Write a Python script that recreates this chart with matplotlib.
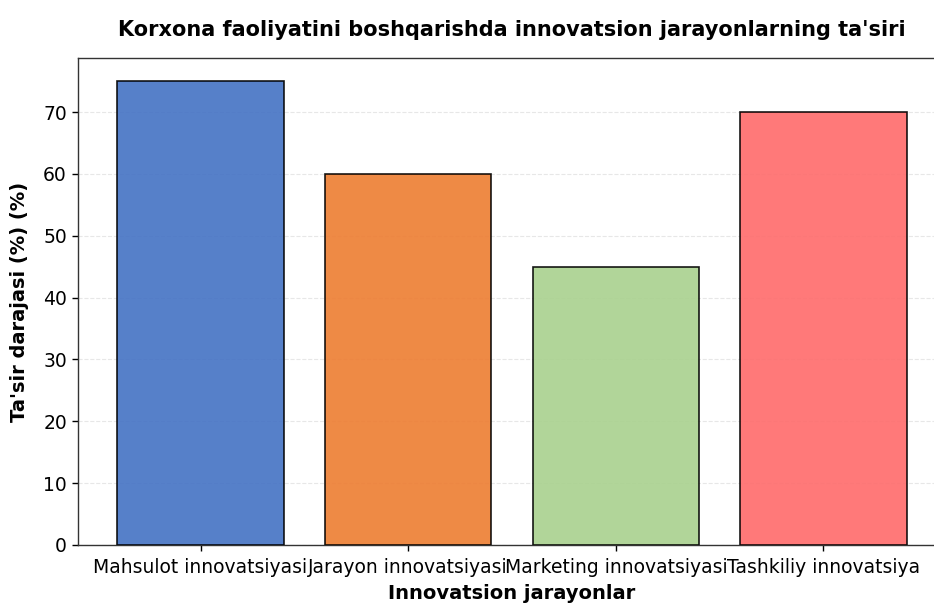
import matplotlib
matplotlib.use("Agg")
import matplotlib.pyplot as plt

categories = ["Mahsulot innovatsiyasi", "Jarayon innovatsiyasi",
              "Marketing innovatsiyasi", "Tashkiliy innovatsiya"]
impact = [75, 60, 45, 70]
colors = ["#4472C4", "#ED7D31", "#A9D18E", "#FF6B6B"]

fig = plt.figure(figsize=(9.34, 6.03), dpi=100)
# the reference is cropped on the right, so the axes run past the figure edge
ax = fig.add_axes([78 / 934, 58 / 603, 868 / 934, 487 / 603])

ax.bar(categories, impact, color=colors, alpha=0.9, edgecolor="black", linewidth=1.2, zorder=3)

ax.set_title("Korxona faoliyatini boshqarishda innovatsion jarayonlarning ta'siri",
             fontsize=15, fontweight="bold", pad=16)
ax.set_xlabel("Innovatsion jarayonlar", fontsize=14, fontweight="bold", labelpad=5)
ax.set_ylabel("Ta'sir darajasi (%) (%)", fontsize=14, fontweight="bold", labelpad=10)
ax.tick_params(labelsize=13.5, length=4.5, width=1.0)
ax.tick_params(axis="x", pad=5)
for sp in ax.spines.values():
    sp.set_linewidth(1.0)
    sp.set_color("#333333")
ax.yaxis.grid(True, linestyle="--", alpha=0.3, zorder=0)

fig.savefig("out.png", dpi=100)
